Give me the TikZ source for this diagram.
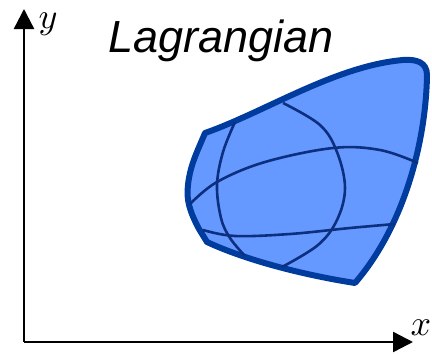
\documentclass[tikz,border=0pt]{standalone}
\usepackage{fontspec}
\setmainfont{Liberation Sans}
\usetikzlibrary{arrows.meta}
\definecolor{edgeblue}{HTML}{003C9E}
\definecolor{fillblue}{HTML}{6699FF}
\definecolor{gridblue}{HTML}{0D2F80}
\tikzset{
  axis/.style={line width=2.4pt, -{Triangle[length=20pt,width=20pt]}},
  outline/.style={draw=edgeblue, fill=fillblue, line width=6pt, line join=round},
  gridline/.style={draw=gridblue, line width=2.6pt},
  axislabel/.style={inner sep=0pt, scale=3.6},
}
\begin{document}
\begin{tikzpicture}[x=1pt,y=-1pt]
\useasboundingbox (0,0) rectangle (432,354);
% axes
\coordinate (O) at (24,342);
\coordinate (Ytip) at (24,9);
\coordinate (Xtip) at (413,342);
\draw[axis] (O) -- (Ytip);
\draw[axis] (O) -- (Xtip);
\node[axislabel] (ylab) at (48,24) {$y$};
\node[axislabel] (xlab) at (421,328) {$x$};
% title
\node[anchor=base, inner sep=0pt, font=\fontsize{45}{54}\selectfont\itshape] (title) at (221,52) {Lagrangian};
% region
\path[outline]
  (205,133)
  .. controls (265,112) and (335,66) .. (403,60)
  .. controls (416,59) and (427,62) .. (427,75)
  .. controls (426,140) and (405,225) .. (355,283)
  .. controls (310,276) and (250,262) .. (207,242)
  -- (199,229)
  .. controls (190,212) and (186,200) .. (188,185)
  .. controls (190,165) and (198,150) .. (205,133) -- cycle;
% grid curves
\draw[gridline] plot[smooth, tension=0.6] coordinates {(283,103) (320,125) (337,152) (345,188) (337,220) (318,245) (282,267)};
\draw[gridline] plot[smooth, tension=0.6] coordinates {(235,122) (223,152) (217,185) (221,218) (230,238) (245,256)};
\draw[gridline] plot[smooth, tension=0.6] coordinates {(190,204) (217,182) (265,162) (333,148) (380,150) (418,163)};
\draw[gridline] plot[smooth, tension=0.6] coordinates {(203,230) (235,236) (290,234) (350,228) (395,224)};
\end{tikzpicture}
\end{document}
